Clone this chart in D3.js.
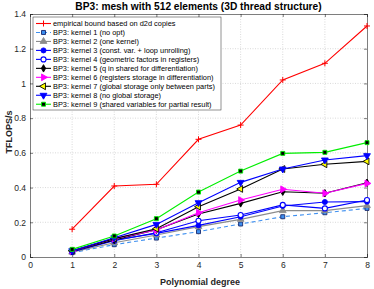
<!DOCTYPE html>
<html>
<head>
<meta charset="utf-8">
<script src="https://cdn.jsdelivr.net/npm/d3@7"></script>
<style>
  body { margin: 0; background: #fff; }
  svg text { font-family: "Liberation Sans", Arial, sans-serif; }
</style>
</head>
<body>
<svg></svg>
<script>
const degrees = [1, 2, 3, 4, 5, 6, 7, 8];
const xTicks = [0, 1, 2, 3, 4, 5, 6, 7, 8];
const yTicks = [0, 0.2, 0.4, 0.6, 0.8, 1, 1.2, 1.4];

const empirical = [0.16, 0.409, 0.419, 0.678, 0.76, 1.02, 1.116, 1.331];
const kernel1 = [0.025, 0.071, 0.109, 0.146, 0.19, 0.232, 0.255, 0.28];
const kernel2 = [0.028, 0.082, 0.127, 0.175, 0.217, 0.267, 0.267, 0.296];
const kernel3 = [0.03, 0.098, 0.136, 0.182, 0.232, 0.294, 0.317, 0.319];
const kernel4 = [0.03, 0.094, 0.14, 0.209, 0.242, 0.3, 0.28, 0.328];
const kernel5 = [0.033, 0.098, 0.157, 0.248, 0.309, 0.376, 0.367, 0.428];
const kernel6 = [0.035, 0.106, 0.155, 0.255, 0.328, 0.39, 0.367, 0.424];
const kernel7 = [0.036, 0.106, 0.163, 0.29, 0.392, 0.507, 0.534, 0.551];
const kernel8 = [0.036, 0.111, 0.188, 0.313, 0.43, 0.507, 0.559, 0.584];
const kernel9 = [0.044, 0.121, 0.221, 0.374, 0.495, 0.597, 0.603, 0.659];

const series = [
  { name: 'empirical bound based on d2d copies', values: empirical, color: '#ff0000', marker: 'plus', fill: 'none' },
  { name: 'BP3: kernel 1 (no opt)', values: kernel1, color: '#3d8ff0', marker: 'square', fill: '#3d8ff0', edge: '#1a2a6e', dash: '4,3' },
  { name: 'BP3: kernel 2 (one kernel)', values: kernel2, color: '#8c8c8c', marker: 'triangleUp', fill: '#8c8c8c' },
  { name: 'BP3: kernel 3 (const. var. + loop unrolling)', values: kernel3, color: '#0000ff', marker: 'circle', fill: '#0000ff' },
  { name: 'BP3: kernel 4 (geometric factors in registers)', values: kernel4, color: '#0000ff', marker: 'circle', fill: '#ffffff' },
  { name: 'BP3: kernel 5 (q in shared for differentiation)', values: kernel5, color: '#000000', marker: 'diamond', fill: '#000000' },
  { name: 'BP3: kernel 6 (registers storage in differentiation)', values: kernel6, color: '#ff00ff', marker: 'triangleRight', fill: '#ff00ff' },
  { name: 'BP3: kernel 7 (global storage only between parts)', values: kernel7, color: '#000000', marker: 'triangleLeft', fill: '#ffff00' },
  { name: 'BP3: kernel 8 (no global storage)', values: kernel8, color: '#0000ff', marker: 'triangleDown', fill: '#0000ff' },
  { name: 'BP3: kernel 9 (shared variables for partial result)', values: kernel9, color: '#00ee00', marker: 'square', fill: '#000000', edge: '#00ee00' }
];

const svgWidth = 374;
const svgHeight = 289;
const margin = { top: 14, right: 7, bottom: 32, left: 30 };
const width = svgWidth - margin.left - margin.right;
const height = svgHeight - margin.top - margin.bottom;

const root = d3.select('svg')
  .attr('width', svgWidth)
  .attr('height', svgHeight);

const svg = root.append('g')
  .attr('transform', `translate(${margin.left}, ${margin.top})`);

const xScale = d3.scaleLinear().domain([0, 8]).range([0, width]);
const yScale = d3.scaleLinear().domain([0, 1.4]).range([height, 0]);

// grid
svg.append('g').selectAll('line')
  .data(xTicks.slice(1, -1))
  .enter().append('line')
  .attr('x1', d => xScale(d)).attr('x2', d => xScale(d))
  .attr('y1', 0).attr('y2', height)
  .attr('stroke', '#c8c8c8').attr('stroke-width', 0.7).attr('stroke-dasharray', '1,1.5');

svg.append('g').selectAll('line')
  .data(yTicks.slice(1, -1))
  .enter().append('line')
  .attr('x1', 0).attr('x2', width)
  .attr('y1', d => yScale(d)).attr('y2', d => yScale(d))
  .attr('stroke', '#c8c8c8').attr('stroke-width', 0.7).attr('stroke-dasharray', '1,1.5');

// axes
svg.append('g')
  .attr('transform', `translate(0, ${height})`)
  .call(d3.axisBottom(xScale).tickValues(xTicks).tickSize(-3).tickPadding(5).tickFormat(d3.format('d')));
svg.append('g')
  .call(d3.axisTop(xScale).tickValues(xTicks).tickSize(-3).tickFormat(''));
svg.append('g')
  .call(d3.axisLeft(yScale).tickValues(yTicks).tickSize(-3).tickPadding(4).tickFormat(d => d3.format('~g')(d)));
svg.append('g')
  .attr('transform', `translate(${width}, 0)`)
  .call(d3.axisRight(yScale).tickValues(yTicks).tickSize(-3).tickFormat(''));

svg.selectAll('.domain').attr('stroke', '#262626').attr('stroke-width', 0.6);
svg.selectAll('.tick line').attr('stroke', '#262626').attr('stroke-width', 0.6);
svg.selectAll('.tick text').attr('font-size', '8.5px').attr('fill', '#262626')
  .style('font-family', '"Liberation Sans", Arial, sans-serif');

const symbols = {
  square: d3.symbol().type(d3.symbolSquare).size(16),
  circle: d3.symbol().type(d3.symbolCircle).size(20),
  diamond: d3.symbol().type(d3.symbolDiamond).size(16),
  triangleUp: d3.symbol().type(d3.symbolTriangle).size(20),
  triangleDown: d3.symbol().type(d3.symbolTriangle).size(20),
  triangleRight: d3.symbol().type(d3.symbolTriangle).size(20),
  triangleLeft: d3.symbol().type(d3.symbolTriangle).size(20)
};
const rotation = { triangleDown: 180, triangleRight: 90, triangleLeft: -90 };

function drawMarker(g, s, x, y) {
  if (s.marker === 'plus') {
    g.append('path')
      .attr('d', `M${x - 3},${y}H${x + 3}M${x},${y - 3}V${y + 3}`)
      .attr('stroke', s.color).attr('stroke-width', 1);
    return;
  }
  g.append('path')
    .attr('d', symbols[s.marker]())
    .attr('transform', `translate(${x},${y}) rotate(${rotation[s.marker] || 0})`)
    .attr('fill', s.fill)
    .attr('stroke', s.edge || s.color)
    .attr('stroke-width', s.marker === 'circle' && s.fill === '#ffffff' ? 1.1 : 0.9);
}

const line = d3.line().x((d, i) => xScale(degrees[i])).y(d => yScale(d));

series.forEach(s => {
  const g = svg.append('g');
  g.append('path')
    .datum(s.values)
    .attr('d', line)
    .attr('fill', 'none')
    .attr('stroke', s.color)
    .attr('stroke-width', 1.1)
    .attr('stroke-dasharray', s.dash || null);
  s.values.forEach((v, i) => drawMarker(g, s, xScale(degrees[i]), yScale(v)));
});

// legend
const legend = svg.append('g').attr('transform', 'translate(3, 3)');
const rowH = 8.97;
legend.append('rect')
  .attr('x', 0).attr('y', 0)
  .attr('width', 188).attr('height', 93)
  .attr('fill', '#fff').attr('stroke', '#262626').attr('stroke-width', 0.5);

series.forEach((s, i) => {
  const y = 6.5 + i * rowH;
  const g = legend.append('g');
  g.append('line')
    .attr('x1', 3).attr('x2', 18).attr('y1', y).attr('y2', y)
    .attr('stroke', s.color).attr('stroke-width', 1.1)
    .attr('stroke-dasharray', s.dash || null);
  drawMarker(g, s, 10.5, y);
  g.append('text')
    .attr('x', 20).attr('y', y + 2.6)
    .attr('font-size', '7.4px').attr('fill', '#000')
    .text(s.name);
});

// labels
root.append('text')
  .attr('x', margin.left + width / 2).attr('y', 10)
  .attr('text-anchor', 'middle')
  .attr('font-size', '10.2px').attr('font-weight', 'bold').attr('fill', '#000')
  .text('BP3: mesh with 512 elements (3D thread structure)');

root.append('text')
  .attr('x', 200).attr('y', 285)
  .attr('text-anchor', 'middle')
  .attr('font-size', '9px').attr('font-weight', 'bold').attr('fill', '#262626')
  .text('Polynomial degree');

root.append('text')
  .attr('transform', 'translate(12, 132) rotate(-90)')
  .attr('text-anchor', 'middle')
  .attr('font-size', '9px').attr('font-weight', 'bold').attr('fill', '#262626')
  .text('TFLOPS/s');
</script>
</body>
</html>
